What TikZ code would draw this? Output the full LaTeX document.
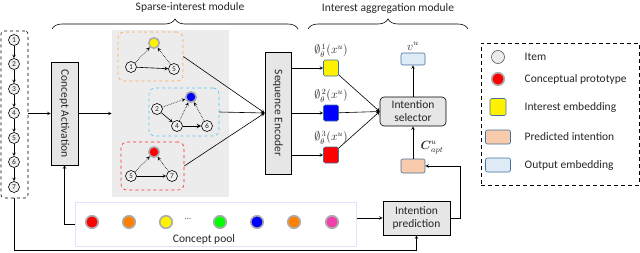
\documentclass[tikz,border=0pt]{standalone}
\usepackage{amsmath,amssymb}
\usepackage{fontspec}
\setmainfont{Carlito}
\usetikzlibrary{positioning,decorations.pathreplacing}
\definecolor{peach}{RGB}{248,203,173}
\definecolor{outblue}{RGB}{222,235,247}
\definecolor{edgeblue}{RGB}{65,113,156}
\definecolor{boxgray}{RGB}{230,230,230}
\definecolor{areagray}{RGB}{236,236,236}
\begin{document}
\begin{tikzpicture}[x=1pt,y=-1pt,>=stealth,line width=0.6pt,
  every node/.style={font=\fontsize{11.5}{13}\selectfont,text=black!85},
  item/.style={circle,draw,fill=gray!12,inner sep=0pt,minimum size=11,font=\fontsize{7.5}{8}\selectfont},
  proto/.style={circle,draw=gray!65,line width=1.6pt,fill=#1,inner sep=0pt,minimum size=10.5},
  blk/.style={draw,fill=boxgray,inner sep=0pt,align=center},
  emb/.style={draw=edgeblue,rounded corners=1.5pt,fill=#1,minimum width=15,minimum height=16,inner sep=0pt},
  pred/.style={draw=edgeblue,fill=peach,rounded corners=2pt,minimum width=24,minimum height=14,inner sep=0pt},
  outp/.style={draw=edgeblue,fill=outblue,rounded corners=2pt,minimum width=24,minimum height=12,inner sep=0pt},
  grp/.style={draw=#1,dashed,rounded corners=6pt,inner sep=0pt},
  link/.style={->,densely dotted}]
  \useasboundingbox (0,0) rectangle (640,252);

  \node[draw,dashed,rounded corners=3pt,minimum width=27,minimum height=167] (seq) at (14.5,114.5) {};
  \foreach \i/\y in {1/40,2/64,3/89,4/113,5/138,6/162,7/187}
    \node[item] (s\i) at (14,\y) {\i};
  \foreach \a/\b in {1/2,2/3,3/4,4/5,5/6,6/7}
    \draw[->] (s\a) -- (s\b);

  \node[blk,minimum width=27,minimum height=103] (ca) at (64.5,113.5) {\rotatebox{-90}{Concept Activation}};
  \node[fill=areagray,minimum width=117,minimum height=167,inner sep=0pt] (sparse) at (170.5,113.5) {};
  \draw[->] (seq.east |- ca) -- (ca.west);
  \draw[->] (ca.east) -- (ca.east -| sparse.west);

  \node[grp=orange!70,minimum width=65,minimum height=49] (g1) at (150.5,56.5) {};
  \node[grp=cyan!70,minimum width=70,minimum height=48] (g2) at (184,112) {};
  \node[grp=red!85,minimum width=63,minimum height=48] (g3) at (152.5,166) {};

  \node[proto=yellow] (p1) at (154,43) {};
  \node[item] (a1) at (131,67) {1};
  \node[item] (a5) at (174,69) {5};
  \draw[->] (a1) -- (a5);
  \foreach \n in {a1,a5} \draw[link] (\n) -- (p1);

  \node[proto=blue] (p2) at (191,97) {};
  \node[item] (b2) at (157,109) {2};
  \node[item] (b4) at (177,126) {4};
  \node[item] (b6) at (207,126) {6};
  \draw[->] (b2) -- (b4);
  \draw[->,line width=1pt] (b4) -- (b6);
  \foreach \n in {b2,b4,b6} \draw[link] (\n) -- (p2);

  \node[proto=red] (p3) at (154,152) {};
  \node[item] (c5) at (131,176) {5};
  \node[item] (c7) at (172,176) {7};
  \draw[->] (c5) -- (c7);
  \foreach \n in {c5,c7} \draw[link] (\n) -- (p3);

  \node[blk,minimum width=26,minimum height=122] (se) at (278,113) {\rotatebox{-90}{Sequence Encoder}};
  \foreach \g in {g1,g2,g3} \draw[->] (\g.east) -- (se.west);

  \node[blk,rounded corners=4pt,minimum width=66,minimum height=29] (sel) at (413,111.5) {Intention\\selector};
  \foreach \n/\c/\y in {1/yellow/68,2/blue/113,3/red/155} {
    \node[emb=\c] (e\n) at (331,\y) {};
    \node[above=-1pt of e\n,font=\fontsize{12}{13}\selectfont] (l\n) {$\emptyset_{\theta}^{\,\n}(x^u)$};
    \draw[->] (se.east |- e\n) -- (e\n);
    \draw[->] (e\n) -- (sel.west);
  }

  \node[outp] (vu) at (413,59) {};
  \node[above=-1pt of vu,font=\fontsize{12}{13}\selectfont] (lv) {$v^u$};
  \draw[->] (sel) -- (vu);
  \node[pred] (cap) at (413,166) {};
  \node[font=\fontsize{12}{13}\selectfont] (lc) at (432,148) {$\boldsymbol{C}^u_{apt}$};
  \draw[->] (cap) -- (sel);

  \node[blk,minimum width=67,minimum height=34] (ip) at (416.5,218) {Intention\\prediction};
  \node[draw=blue!12,line width=1pt,minimum width=281,minimum height=44,inner sep=0pt] (pool) at (215.5,224) {};
  \foreach \c/\x [count=\k] in {red/92,orange/129,yellow/166,green/220,blue/257,orange/294,magenta!75/332}
    \node[proto=\c,minimum size=12.5] (q\k) at (\x,222) {};
  \node[font=\fontsize{8}{8}\selectfont] (dots) at (188,219) {...};
  \node (plabel) at (204,239) {Concept pool};

  \draw[->] (pool.east |- ip.west) -- (ip.west);
  \draw[->] (ip.east) -- ++(10,0) |- (cap.east);
  \draw[->] (pool.west) -| (ca.south);
  \draw[->] (seq.south) -- ++(0,52) -| (ip.south);

  \draw[decorate,decoration={brace,amplitude=10pt}] (52,29) -- (298,29);
  \draw[decorate,decoration={brace,amplitude=10pt}] (308,29) -- (468,29);
  \node (h1) at (190,7) {Sparse-interest module};
  \node (h2) at (388,8) {Interest aggregation module};

  \node[draw,dash pattern=on 4pt off 3pt,line width=1pt,minimum width=158,minimum height=142,inner sep=0pt] (legend) at (560,114) {};
  \node[circle,draw=gray!70!black,fill=gray!15,minimum size=13,inner sep=0pt] (k1) at (498,57) {};
  \node[proto=red,minimum size=12.5] (k2) at (498,79) {};
  \node[emb=yellow,minimum width=16,minimum height=17] (k3) at (498,107) {};
  \node[pred,minimum width=25] (k4) at (498,137) {};
  \node[outp,minimum width=25,minimum height=14] (k5) at (498,165) {};
  \foreach \y/\t [count=\k] in {57/Item,79/Conceptual prototype,107/Interest embedding,137/Predicted intention,165/Output embedding}
    \node[anchor=west] (t\k) at (521,\y) {\t};
\end{tikzpicture}
\end{document}
